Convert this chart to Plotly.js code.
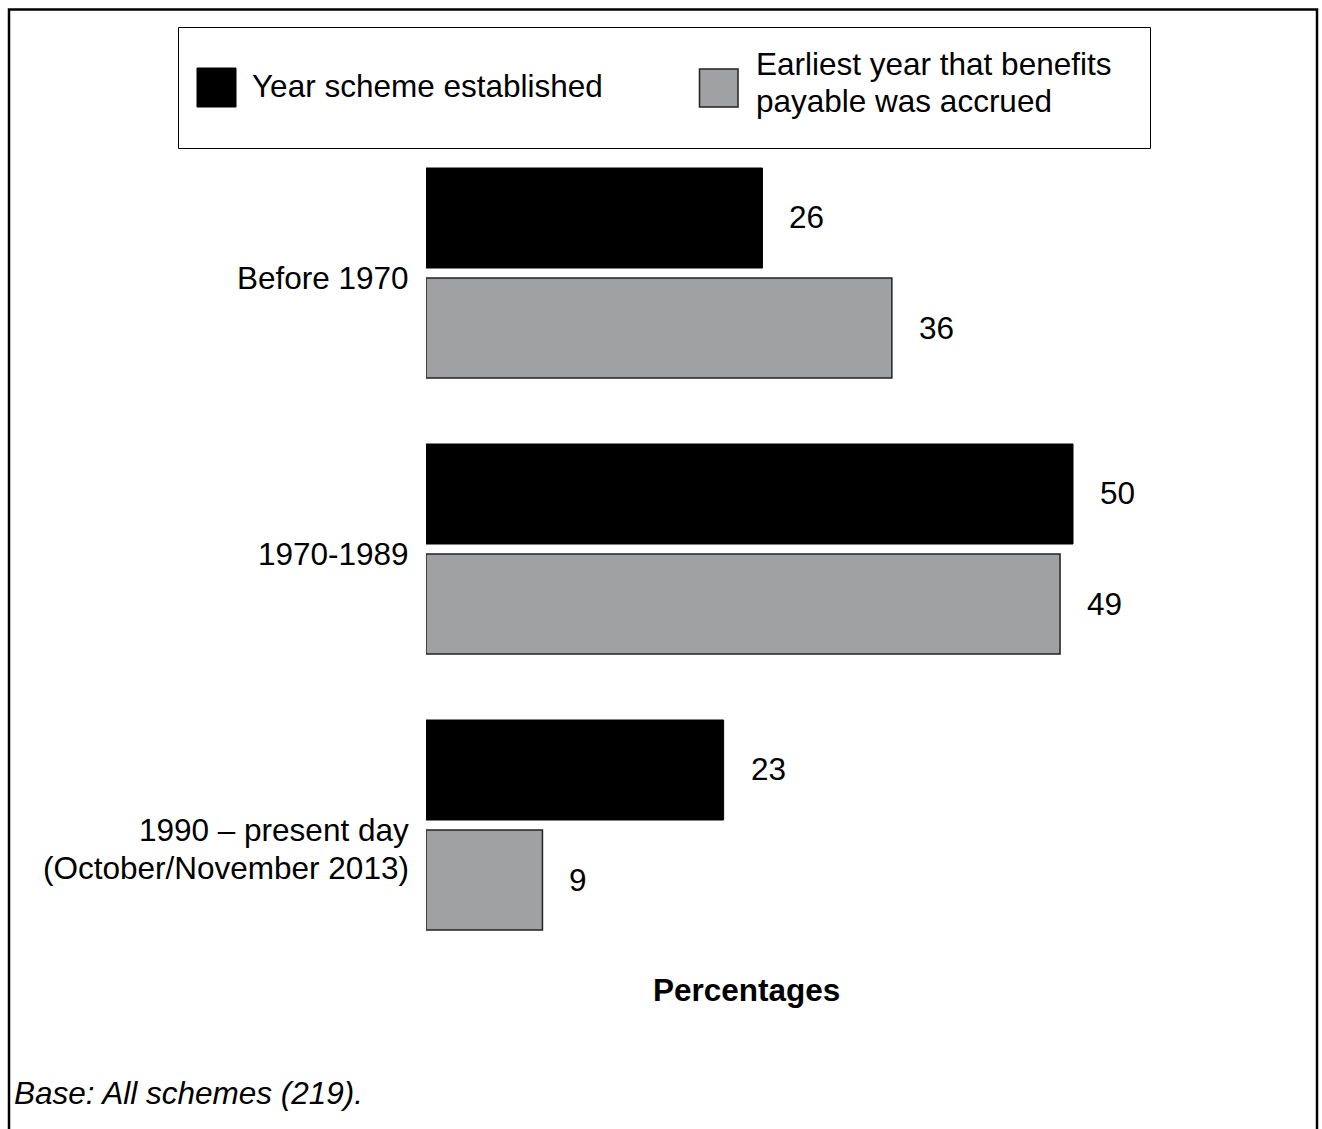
<!DOCTYPE html>
<html>
<head>
<meta charset="utf-8">
<script src="https://cdn.plot.ly/plotly-3.0.1.min.js"></script>
<style>
  html, body { margin: 0; padding: 0; background: #ffffff; }
  #chart { width: 1322px; height: 1129px; }
</style>
</head>
<body>
<div id="chart"></div>
<script>
// Age of pension schemes, by period
const categories = ['Before 1970', '1970-1989', '1990 – present day<br>(October/November 2013)'];
const seriesNames = ['Year scheme established', 'Earliest year that benefits<br>payable was accrued'];
const established = [26, 50, 23];
const earliestAccrued = [36, 49, 9];
const axisTitle = 'Percentages';
const footnote = 'Base: All schemes (219).';

const W = 1322, H = 1129;
const M = { l: 426, r: 120, t: 135, b: 166 };
const PW = W - M.l - M.r, PH = H - M.t - M.b;
// pixel -> paper coordinate helpers
const px = x => (x - M.l) / PW;
const py = y => (H - M.b - y) / PH;

const FONT = 'Liberation Sans, Arial, sans-serif';
const FS = 31.5;
const BLACK = '#000000';
const GREY = '#a0a1a3';

const traces = [
  {
    type: 'bar', orientation: 'h', name: seriesNames[0],
    y: categories, x: established,
    marker: { color: BLACK, line: { color: BLACK, width: 1 } },
    hoverinfo: 'skip'
  },
  {
    type: 'bar', orientation: 'h', name: seriesNames[1],
    y: categories, x: earliestAccrued,
    marker: { color: GREY, line: { color: '#222222', width: 1.5 } },
    hoverinfo: 'skip'
  }
];

const annotations = [];
// value labels beside each bar
[established, earliestAccrued].forEach((vals, s) => {
  vals.forEach((v, i) => {
    annotations.push({
      xref: 'x', yref: 'y', x: v, y: categories[i],
      text: String(v), showarrow: false,
      xanchor: 'left', yanchor: 'middle',
      xshift: 25, yshift: s === 0 ? 56 : -55,
      font: { family: FONT, size: FS, color: '#000' }
    });
  });
});
// category labels, one line at a time
categories.forEach((c, i) => {
  c.split('<br>').forEach((line, k) => {
    annotations.push({
      xref: 'paper', yref: 'y', x: 0, y: c,
      text: line, showarrow: false,
      xanchor: 'right', yanchor: 'middle',
      xshift: -15, yshift: -5 - 38 * k,
      font: { family: FONT, size: FS, color: '#000' }
    });
  });
});
// legend texts
annotations.push({
  xref: 'paper', yref: 'paper', x: px(250), y: py(86),
  text: seriesNames[0], showarrow: false, xanchor: 'left', yanchor: 'middle',
  font: { family: FONT, size: FS, color: '#000' }
});
seriesNames[1].split('<br>').forEach((line, k) => {
  annotations.push({
    xref: 'paper', yref: 'paper', x: px(754), y: py(64 + 37 * k),
    text: line, showarrow: false, xanchor: 'left', yanchor: 'middle',
    font: { family: FONT, size: FS, color: '#000' }
  });
});
// axis title and footnote
annotations.push({
  xref: 'paper', yref: 'paper', x: px(746), y: py(990),
  text: '<b>' + axisTitle + '</b>', showarrow: false, xanchor: 'center', yanchor: 'middle',
  font: { family: FONT, size: FS, color: '#000' }
});
annotations.push({
  xref: 'paper', yref: 'paper', x: px(12), y: py(1093),
  text: '<i>' + footnote + '</i>', showarrow: false, xanchor: 'left', yanchor: 'middle',
  font: { family: FONT, size: FS, color: '#000' }
});

const shapes = [
  // outer frame
  { type: 'rect', xref: 'paper', yref: 'paper', x0: px(9), x1: px(1317), y0: py(9.5), y1: py(1140),
    line: { color: '#000', width: 2.5 }, fillcolor: 'rgba(0,0,0,0)' },
  // legend box
  { type: 'rect', xref: 'paper', yref: 'paper', x0: px(178.5), x1: px(1150.5), y0: py(27.5), y1: py(148.5),
    line: { color: '#000', width: 1 }, fillcolor: 'rgba(0,0,0,0)' },
  // legend swatches
  { type: 'rect', xref: 'paper', yref: 'paper', x0: px(197), x1: px(236), y0: py(68), y1: py(107),
    line: { color: BLACK, width: 1 }, fillcolor: BLACK },
  { type: 'rect', xref: 'paper', yref: 'paper', x0: px(699.5), x1: px(738), y0: py(69), y1: py(107),
    line: { color: '#222222', width: 1.5 }, fillcolor: GREY }
];

const layout = {
  width: W, height: H,
  margin: M,
  paper_bgcolor: '#ffffff', plot_bgcolor: '#ffffff',
  showlegend: false,
  barmode: 'group',
  bargap: 0.203,
  bargroupgap: 0.0909,
  font: { family: FONT, size: FS, color: '#000' },
  xaxis: {
    range: [0, PW / 12.94], showgrid: false, zeroline: false, showline: false,
    showticklabels: false, ticks: '', fixedrange: true
  },
  yaxis: {
    type: 'category', autorange: false, range: [2.5, -0.5],
    showgrid: false, zeroline: false, showline: false,
    showticklabels: false, ticks: '', fixedrange: true
  },
  annotations: annotations,
  shapes: shapes
};

Plotly.newPlot('chart', traces, layout, { displayModeBar: false, staticPlot: true });
</script>
</body>
</html>
